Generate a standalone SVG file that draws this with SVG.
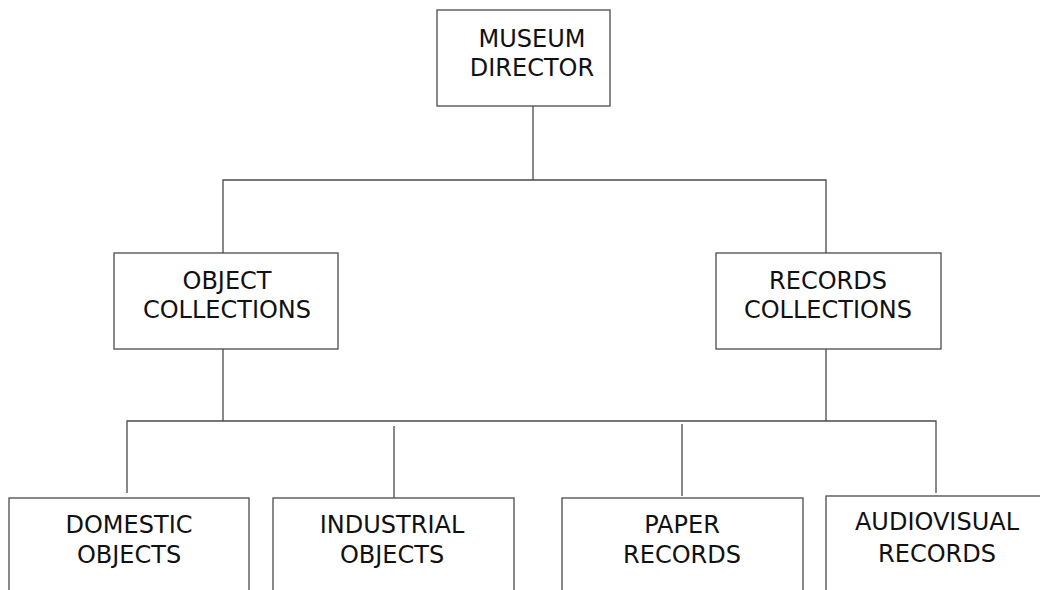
<svg xmlns="http://www.w3.org/2000/svg" width="1040" height="590" viewBox="0 0 1040 590">
<style>
.box{fill:#fff;stroke:#4a4a4a;stroke-width:1.3}
.ln{fill:none;stroke:#4a4a4a;stroke-width:1.3}
text{font-family:"DejaVu Sans","Liberation Sans",sans-serif;font-size:24px;fill:#111;text-anchor:middle}
</style>
<rect width="1040" height="590" fill="#fff"/>
<g id="connectors">
<line class="ln" x1="533" y1="106" x2="533" y2="180"/>
<polyline class="ln" points="223,253 223,180 826,180 826,253"/>
<line class="ln" x1="223" y1="349" x2="223" y2="421"/>
<line class="ln" x1="826" y1="349" x2="826" y2="421"/>
<polyline class="ln" points="127,493 127,421 936,421 936,493"/>
<line class="ln" x1="394" y1="426" x2="394" y2="498"/>
<line class="ln" x1="682" y1="424" x2="682" y2="496"/>
</g>
<g id="director">
<rect class="box" x="437" y="10" width="173" height="96"/>
<text x="532" y="47">MUSEUM</text>
<text x="532" y="76">DIRECTOR</text>
</g>
<g id="object-collections">
<rect class="box" x="114" y="253" width="224" height="96"/>
<text x="227" y="289">OBJECT</text>
<text x="227" y="318">COLLECTIONS</text>
</g>
<g id="records-collections">
<rect class="box" x="716" y="253" width="225" height="96"/>
<text x="828" y="289">RECORDS</text>
<text x="828" y="318">COLLECTIONS</text>
</g>
<g id="domestic-objects">
<rect class="box" x="9" y="498" width="240" height="110"/>
<text x="129" y="533">DOMESTIC</text>
<text x="129" y="563">OBJECTS</text>
</g>
<g id="industrial-objects">
<rect class="box" x="273" y="498" width="241" height="110"/>
<text x="392" y="533">INDUSTRIAL</text>
<text x="392" y="563">OBJECTS</text>
</g>
<g id="paper-records">
<rect class="box" x="562" y="498" width="241" height="110"/>
<text x="682" y="533">PAPER</text>
<text x="682" y="563">RECORDS</text>
</g>
<g id="audiovisual-records">
<rect class="box" x="826" y="496" width="240" height="110"/>
<text x="937" y="530">AUDIOVISUAL</text>
<text x="937" y="562">RECORDS</text>
</g>
</svg>
